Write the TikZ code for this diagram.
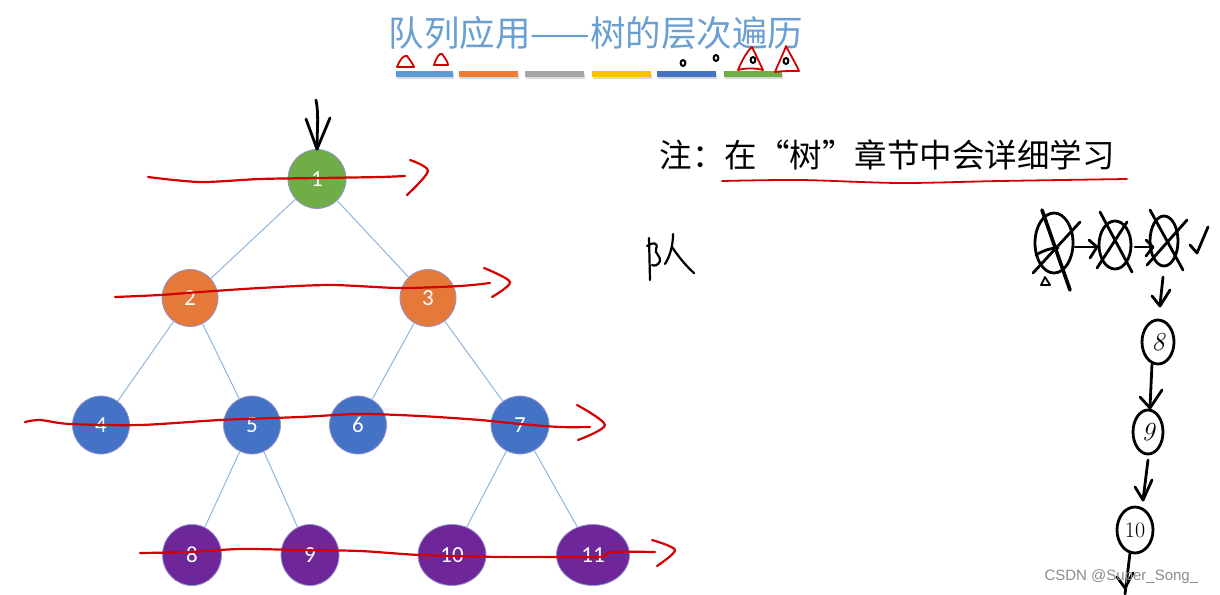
\documentclass[tikz,border=0pt]{standalone}
\usepackage{fontspec}
\setsansfont{Carlito}
\newfontfamily\cjk{Noto Sans CJK SC}
\newfontfamily\wm{Liberation Sans}
\usetikzlibrary{shapes.geometric}
\definecolor{titleblue}{HTML}{6A9FD2}
\definecolor{cbar1}{HTML}{5B9BD5}
\definecolor{cbar2}{HTML}{ED7D31}
\definecolor{cbar3}{HTML}{A5A5A5}
\definecolor{cbar4}{HTML}{FFC000}
\definecolor{cbar5}{HTML}{4472C4}
\definecolor{cbar6}{HTML}{70AD47}
\definecolor{ngreen}{HTML}{70AD47}
\definecolor{norange}{HTML}{E4793A}
\definecolor{nblue}{HTML}{4472C4}
\definecolor{npurple}{HTML}{6E2699}
\definecolor{edgeblue}{HTML}{8FB6DD}
\definecolor{pen}{HTML}{D40000}
\tikzset{
  tnode/.style={ellipse, draw=gray!60!blue!60, line width=0.8pt, text=white, font=\sffamily\fontsize{23}{23}\selectfont, inner sep=0pt},
  tedge/.style={draw=edgeblue, line width=1pt},
  cbar/.style={line width=5.5pt},
  redpen/.style={draw=pen, line width=2.2pt, line cap=round, line join=round},
  blackpen/.style={draw=black, line width=2.8pt, line cap=round, line join=round},
}
\begin{document}
\begin{tikzpicture}[x=1pt,y=-1pt]
\useasboundingbox[fill=white] (0,0) rectangle (1220,594);
% title
\node (title) at (596,33) {\cjk\color{titleblue}\fontsize{35.5}{35.5}\selectfont 队列应用——树的层次遍历};
% colour bars with shadow
\foreach \a/\b/\c [count=\i] in {396/453/cbar1,459/518/cbar2,525/584/cbar3,592/651/cbar4,657/716/cbar5,724/782/cbar6}{
  \draw[cbar, black!15] (\a+1,76.5) -- (\b+1,76.5);
  \draw[cbar, \c] (\a,74) -- (\b,74);
}
% red marks over bars
\draw[redpen, line width=1.8pt] (397,67) .. controls (400,59) and (404,55) .. (407,56) .. controls (410,60) and (413,64) .. (414,67) -- cycle;
\draw[redpen, line width=1.8pt] (434,65) .. controls (436,58) and (440,52) .. (442,54) .. controls (445,58) and (448,62) .. (448,65) -- cycle;
\draw[redpen, line width=1.8pt] (738,70) .. controls (742,60) and (748,50) .. (752,47) .. controls (756,55) and (760,64) .. (763,70) .. controls (756,68) and (745,68) .. (738,70);
\draw[redpen, line width=1.8pt] (775,72) .. controls (779,62) and (784,52) .. (786,46) .. controls (791,56) and (796,64) .. (799,71) .. controls (790,71) and (782,71) .. (775,72);
\foreach \p in {(683,63),(716,58),(753,60),(786,61)}{
  \draw[black, line width=2pt] \p ellipse (2.4 and 3);
}
% tree nodes
\node[tnode, fill=ngreen, minimum width=58pt, minimum height=59pt] (n1) at (317,179) {1};
\node[tnode, fill=norange, minimum width=56pt, minimum height=57pt] (n2) at (190,298) {2};
\node[tnode, fill=norange, minimum width=56pt, minimum height=57pt] (n3) at (428,298) {3};
\node[tnode, fill=nblue, minimum width=57pt, minimum height=58pt] (n4) at (101,425) {4};
\node[tnode, fill=nblue, minimum width=57pt, minimum height=58pt] (n5) at (252,425) {5};
\node[tnode, fill=nblue, minimum width=57pt, minimum height=58pt] (n6) at (358,425) {6};
\node[tnode, fill=nblue, minimum width=58pt, minimum height=58pt] (n7) at (520,425) {7};
\node[tnode, fill=npurple, minimum width=59pt, minimum height=61pt] (n8) at (192,555) {8};
\node[tnode, fill=npurple, minimum width=58pt, minimum height=61pt] (n9) at (310,555) {9};
\node[tnode, fill=npurple, minimum width=68pt, minimum height=61pt] (n10) at (452,555) {10};
\node[tnode, fill=npurple, minimum width=73pt, minimum height=61pt] (n11) at (593,555) {11};
% edges
\foreach \u/\v in {n1/n2,n1/n3,n2/n4,n2/n5,n3/n6,n3/n7,n5/n8,n5/n9,n7/n10,n7/n11}{
  \draw[tedge] (\u) -- (\v);
}
% note
\node[anchor=west] (note) at (656,155) {\cjk\fontsize{32.5}{32.5}\selectfont 注：在“树”章节中会详细学习};
\draw[redpen, line width=1.8pt] plot[smooth] coordinates {(722,181) (800,180) (900,183) (1000,181) (1127,179)};
% red level lines
\draw[redpen] plot[smooth] coordinates {(148,177) (200,182) (260,179) (320,178) (380,177) (405,176)};
\draw[redpen] plot[smooth] coordinates {(410,160) (428,171) (407,195)};
\draw[redpen] plot[smooth] coordinates {(115,297) (160,295) (200,292) (260,288) (330,285) (400,288) (460,286) (490,283)};
\draw[redpen] plot[smooth] coordinates {(484,268) (510,282) (492,297)};
\draw[redpen] plot[smooth] coordinates {(25,422) (40,420) (70,424) (140,425) (220,420) (300,417) (360,414) (420,416) (480,420) (520,424) (560,427) (590,427)};
\draw[redpen] plot[smooth] coordinates {(577,405) (605,425) (578,440)};
\draw[redpen] plot[smooth] coordinates {(140,553) (190,552) (240,549) (300,550) (360,551) (420,555) (500,557) (560,557) (600,557) (612,552) (655,552)};
\draw[redpen] plot[smooth] coordinates {(652,540) (675,550) (657,566)};
% black arrow into root
\coordinate (rootin) at (316,100);
\draw[blackpen] (rootin) .. controls (319,115) and (317,130) .. (n1.north);
\draw[blackpen] (306,119) -- (n1.north) -- (330,118);
% handwritten character
\draw[blackpen, line width=2.2pt] (649,238) -- (650,280);
\draw[blackpen, line width=2.2pt] (647,246) .. controls (652,242) and (659,242) .. (656,249) .. controls (654,253) and (661,256) .. (660,261) .. controls (658,266) and (654,266) .. (652,265);
\draw[blackpen, line width=2.2pt] (673,234) .. controls (673,246) and (670,256) .. (665,264);
\draw[blackpen, line width=2.2pt] (672,247) .. controls (678,256) and (686,266) .. (694,273);
% queue scribbles
\draw[blackpen] (1054,243) ellipse (19 and 30);
\draw[blackpen, line width=3.6pt] (1042,210) -- (1070,290);
\draw[blackpen] (1080,222) -- (1033,273);
\draw[blackpen] (1036,255) .. controls (1044,250) and (1052,248) .. (1058,248);
\draw[blackpen, line width=1.8pt] (1041,285) -- (1045,277) -- (1050,285) -- cycle;
\draw[blackpen] (1075,247) -- (1096,247);
\draw[blackpen] (1089,240) -- (1097,247) -- (1090,258);
\draw[blackpen] (1115,245) ellipse (16 and 24);
\draw[blackpen] (1100,212) -- (1132,272);
\draw[blackpen] (1127,222) -- (1097,268);
\draw[blackpen] (1135,247) -- (1152,247);
\draw[blackpen] (1146,240) -- (1153,247) -- (1146,256);
\draw[blackpen] (1164,241) ellipse (14 and 25);
\draw[blackpen] (1150,210) -- (1183,270);
\draw[blackpen] (1187,220) -- (1147,265);
\draw[blackpen] (1190,245) -- (1197,253) -- (1208,227);
% queue chain
\node[draw=none, font=\itshape\fontsize{26}{26}\selectfont] (q8) at (1158,342) {8};
\node[draw=none, font=\itshape\fontsize{26}{26}\selectfont] (q9) at (1148,432) {9};
\node[draw=none, font=\fontsize{22}{22}\selectfont] (q10) at (1135,530) {10};
\draw[blackpen] (q8) ellipse (16 and 22);
\draw[blackpen] (q9) ellipse (15 and 22);
\draw[blackpen] (q10) ellipse (18 and 23);
\draw[blackpen] (1163,277) -- (1160,305);
\draw[blackpen] (1152,296) -- (1160,306) -- (1170,290);
\draw[blackpen] (1152,364) -- (1150,407);
\draw[blackpen] (1140,397) -- (1150,408) -- (1162,390);
\draw[blackpen] (1148,460) -- (1143,500);
\draw[blackpen] (1135,487) -- (1143,500) -- (1152,480);
\coordinate (qend) at (1125,594);
\draw[blackpen] (1130,553) -- (qend);
\draw[blackpen] (1117,577) -- (1125,588) -- (1133,573);
% watermark
\node[anchor=west, text=black!45, font=\wm\fontsize{15}{15}\selectfont] (wmark) at (1041,577) {CSDN @Super\_Song\_};
\end{tikzpicture}
\end{document}
